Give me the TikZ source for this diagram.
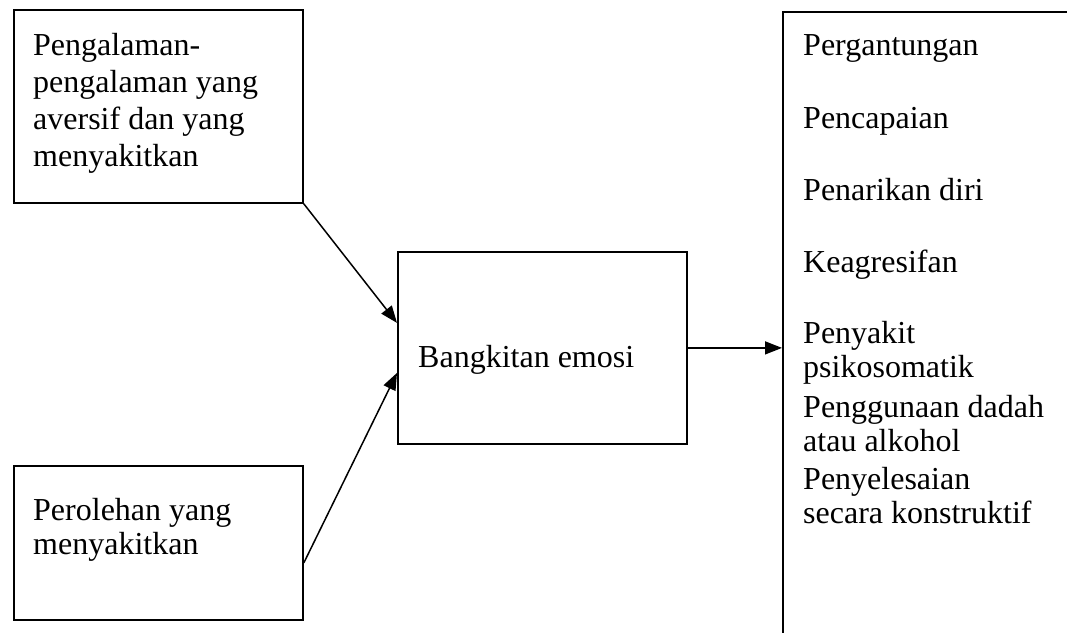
\documentclass[tikz,border=0pt]{standalone}
\usepackage{fontspec}
\setmainfont{Liberation Serif}
\usetikzlibrary{arrows.meta}
\begin{document}
\begin{tikzpicture}[x=1pt,y=-1pt,
  box/.style={draw,line width=1.8pt,inner sep=0pt,anchor=north west},
  txt/.style={anchor=base west,inner sep=0pt,font=\fontsize{32}{37}\selectfont},
  arr/.style={line width=1.5pt,-{Triangle[length=17pt,width=13pt]}}]
\clip (0,0) rectangle (1067,632);
\fill[white] (0,0) rectangle (1067,632);
% boxes
\node[box,minimum width=289pt,minimum height=193pt] (a) at (13,9) {};
\node[box,minimum width=289pt,minimum height=154pt] (b) at (13,465) {};
\node[box,minimum width=289pt,minimum height=192pt] (c) at (397,251) {};
\node[box,minimum width=320pt,minimum height=660pt] (d) at (782,11) {};
% texts
\node[txt] (a1) at (33,55) {Pengalaman-};
\node[txt] (a2) at (33,92) {pengalaman yang};
\node[txt] (a3) at (33,129) {aversif dan yang};
\node[txt] (a4) at (33,166) {menyakitkan};
\node[txt] (b1) at (33,520) {Perolehan yang};
\node[txt] (b2) at (33,554) {menyakitkan};
\node[txt] (c1) at (418,367) {Bangkitan emosi};
\node[txt] (d1) at (803,55) {Pergantungan};
\node[txt] (d2) at (803,128) {Pencapaian};
\node[txt] (d3) at (803,200) {Penarikan diri};
\node[txt] (d4) at (803,272) {Keagresifan};
\node[txt] (d5) at (803,343) {Penyakit};
\node[txt] (d6) at (803,377) {psikosomatik};
\node[txt] (d7) at (803,417) {Penggunaan dadah};
\node[txt] (d8) at (803,451) {atau alkohol};
\node[txt] (d9) at (803,489) {Penyelesaian};
\node[txt] (d10) at (803,523) {secara konstruktif};
% connectors
\draw[arr] (a.south east) -- ([yshift=25pt]c.west);
\draw[arr] ([yshift=-20pt]b.east) -- ([yshift=-25pt]c.west);
\draw[arr] (c.east) -- (c.east -| d.west);
\end{tikzpicture}
\end{document}
